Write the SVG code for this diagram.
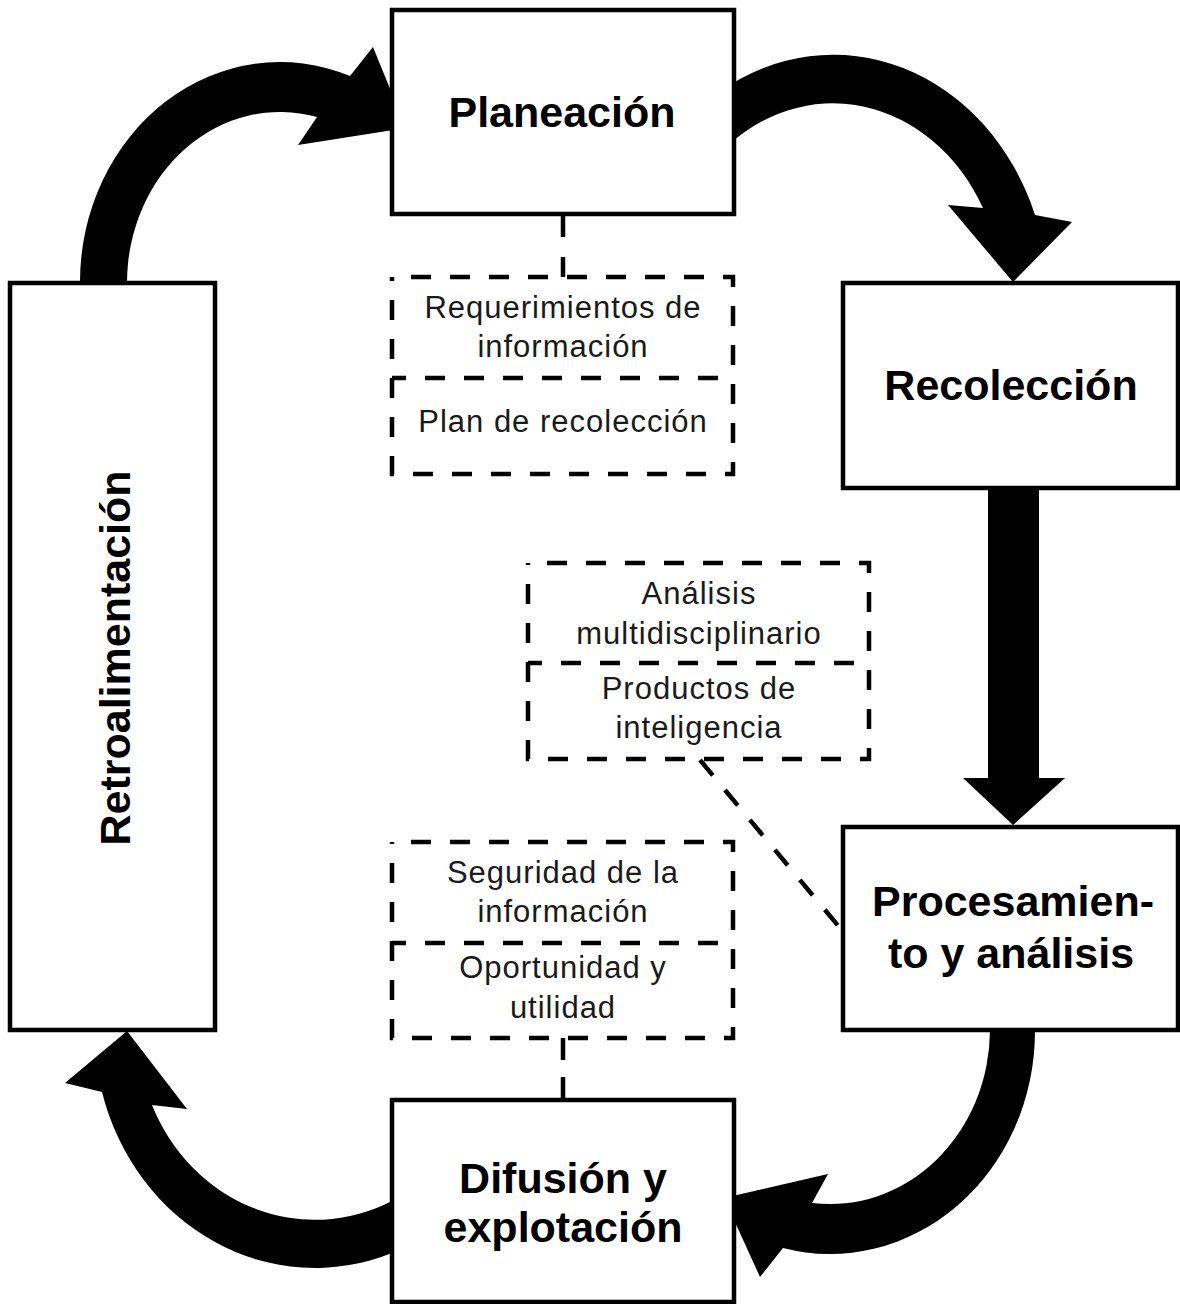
<svg xmlns="http://www.w3.org/2000/svg" width="1180" height="1304" viewBox="0 0 1180 1304">
<style>
.box{fill:#fff;stroke:#000;stroke-width:4.5}
.dbox{fill:none;stroke:#000;stroke-width:4.5;stroke-dasharray:20 19;stroke-dashoffset:20}
.dl{fill:none;stroke:#000;stroke-width:4.5;stroke-dasharray:20 19}
.arr{fill:#000;stroke:none}
.big{font-family:"Liberation Sans",Arial,sans-serif;font-weight:bold;font-size:43px;fill:#000;text-anchor:middle}
.sm{font-family:"Liberation Sans",Arial,sans-serif;font-size:31px;letter-spacing:1px;fill:#1a1a1a;text-anchor:middle}
</style>
<rect width="1180" height="1304" fill="#fff"/>
<g id="connectors">
<path class="arr" d="M80,300 L80,283 A200 220 0 0 1 350,76 L373,47 L406,128 L298,145 L317,117 A153 171 0 0 0 127,283 L127,300 Z"/>
<path class="arr" d="M720,91.5 A215 245 0 0 1 1035,215 L1072,222 L1013,282 L948,205 L983,208 A170 197 0 0 0 720,153 Z"/>
<polygon class="arr" points="988,480 1039,480 1039,778 1065,778 1013,825 963,778 988,778"/>
<path class="arr" d="M1035,1015 L1035,1030 A205 223 0 0 1 783,1248 L760,1277 L724,1198 L828,1174 L812,1203 A160 175 0 0 0 990,1030 L990,1015 Z"/>
<path class="arr" d="M410,1250 L392,1253 A220.7 238 0 0 1 102,1092 L65,1083 L127,1031 L187,1109 L152,1105 A177.4 190 0 0 0 392,1201 L410,1198 Z"/>
<line class="dl" x1="563" y1="215" x2="563" y2="277" style="stroke-dasharray:22 20"/>
<line class="dl" x1="563" y1="1038" x2="563" y2="1100" style="stroke-dasharray:22 17"/>
<line class="dl" x1="700" y1="760" x2="840" y2="928"/>
</g>
<g id="planeacion">
<rect class="box" x="392" y="10" width="342" height="204"/>
<text class="big" x="562" y="127">Planeación</text>
</g>
<g id="recoleccion">
<rect class="box" x="843" y="283" width="335" height="205"/>
<text class="big" x="1011" y="400">Recolección</text>
</g>
<g id="procesamiento">
<rect class="box" x="843" y="827" width="335" height="203"/>
<text class="big" x="1013" y="916">Procesamien-</text>
<text class="big" x="1011" y="968">to y análisis</text>
</g>
<g id="difusion">
<rect class="box" x="392" y="1100" width="342" height="202"/>
<text class="big" x="563" y="1193">Difusión y</text>
<text class="big" x="563" y="1242">explotación</text>
</g>
<g id="retroalimentacion">
<rect class="box" x="10" y="283" width="205" height="747"/>
<text class="big" transform="translate(130,658) rotate(-90)">Retroalimentación</text>
</g>
<g id="requerimientos">
<rect class="dbox" x="392" y="277" width="341" height="197"/>
<line class="dl" x1="392" y1="378" x2="733" y2="378" style="stroke-dashoffset:6"/>
<text class="sm" x="563" y="318">Requerimientos de</text>
<text class="sm" x="563" y="357">información</text>
<text class="sm" x="563" y="432">Plan de recolección</text>
</g>
<g id="analisis">
<rect class="dbox" x="528" y="563" width="341" height="196"/>
<line class="dl" x1="528" y1="663" x2="869" y2="663" style="stroke-dashoffset:6"/>
<text class="sm" x="699" y="604">Análisis</text>
<text class="sm" x="699" y="644">multidisciplinario</text>
<text class="sm" x="699" y="699">Productos de</text>
<text class="sm" x="699" y="738">inteligencia</text>
</g>
<g id="seguridad">
<rect class="dbox" x="392" y="842" width="341" height="196"/>
<line class="dl" x1="392" y1="943" x2="733" y2="943" style="stroke-dashoffset:6"/>
<text class="sm" x="563" y="883">Seguridad de la</text>
<text class="sm" x="563" y="922">información</text>
<text class="sm" x="563" y="978">Oportunidad y</text>
<text class="sm" x="563" y="1018">utilidad</text>
</g>
</svg>
